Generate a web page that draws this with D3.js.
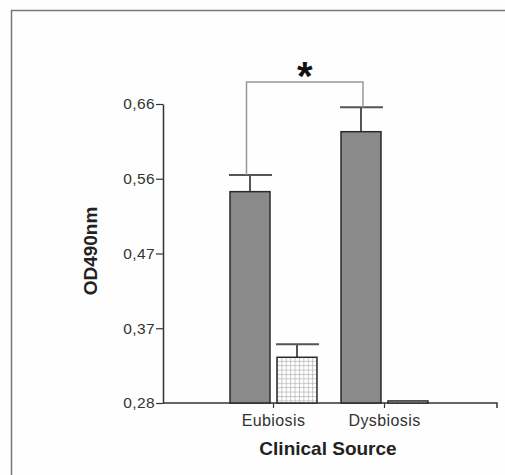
<!DOCTYPE html>
<html>
<head>
<meta charset="utf-8">
<script src="https://cdn.jsdelivr.net/npm/d3@7"></script>
<style>
  body { margin: 0; background: #fff; }
  text { font-family: Arial, "Liberation Sans", sans-serif; }
</style>
</head>
<body>
<svg width="505" height="475"></svg>
<script>
// OD490nm by clinical source, two series per group
var groups = ["Eubiosis", "Dysbiosis"];
var series = ["solid", "hatched"];
var means = [[0.5486, 0.3381], [0.6248, 0.2826]];
var errs = [[0.0212, 0.0165], [0.0310, 0]];
var yTicks = [0.28, 0.375, 0.47, 0.565, 0.66];
var yTickLabels = ["0,28", "0,37", "0,47", "0,56", "0,66"];
var bracketLevel = 0.688;

var svg = d3.select("svg"),
    width = +svg.attr("width"),
    height = +svg.attr("height");

svg.append("rect").attr("width", width).attr("height", height).attr("fill", "#fefefe");

// outer frame (only top and left edges visible)
svg.append("path")
    .attr("d", "M11.5,475V10.5H505")
    .attr("fill", "none")
    .attr("stroke", "#777")
    .attr("stroke-width", 1.5);

var defs = svg.append("defs");
var pat = defs.append("pattern")
    .attr("id", "grid")
    .attr("patternUnits", "userSpaceOnUse")
    .attr("width", 4.4).attr("height", 4.4);
pat.append("rect").attr("width", 4.4).attr("height", 4.4).attr("fill", "#fff");
pat.append("path").attr("d", "M0,0.5H4.4M0.5,0V4.4")
    .attr("stroke", "#bbb").attr("stroke-width", 0.8);

var left = 163, right = 497;

var y = d3.scaleLinear().domain([0.28, 0.66]).range([403, 104]);

var x0 = d3.scaleBand().domain(groups).range([218, 440]);
var x1 = d3.scaleBand().domain(series).range([0, x0.bandwidth()])
    .paddingInner(0.149).paddingOuter(0.2555);

// y axis
var yAxis = svg.append("g")
    .attr("transform", "translate(" + left + ",0)")
    .call(d3.axisLeft(y).tickValues(yTicks)
      .tickFormat(function(d, i) { return yTickLabels[i]; })
      .tickSize(7).tickSizeOuter(0));
yAxis.select(".domain").attr("stroke", "#333").attr("stroke-width", 1.5);
yAxis.selectAll(".tick line").attr("stroke", "#333").attr("stroke-width", 1.2);
yAxis.selectAll(".tick text")
    .attr("font-size", 15.5).attr("letter-spacing", 0.4)
    .attr("fill", "#333").attr("x", -8);

// x axis
var xAxis = svg.append("g")
    .attr("transform", "translate(0,403)")
    .call(d3.axisBottom(x0).tickSize(5).tickSizeOuter(0));
xAxis.select(".domain").remove();
xAxis.append("path")
    .attr("d", "M" + left + ",0H" + right + "V5")
    .attr("fill", "none").attr("stroke", "#333").attr("stroke-width", 1.5);
xAxis.selectAll(".tick line").attr("stroke", "#333").attr("stroke-width", 1.2);
xAxis.selectAll(".tick text")
    .attr("font-size", 16).attr("letter-spacing", 0.4)
    .attr("fill", "#333").attr("y", 12).attr("dy", "0.71em");

// bars
var rows = [];
groups.forEach(function(g, i) {
  series.forEach(function(s, j) {
    rows.push({ group: g, series: s, mean: means[i][j], err: errs[i][j] });
  });
});

var bar = svg.append("g").selectAll("g")
    .data(rows)
    .enter().append("g")
    .attr("transform", function(d) { return "translate(" + (x0(d.group) + x1(d.series)) + ",0)"; });

bar.filter(function(d) { return d.err > 0; }).each(function(d) {
  var g = d3.select(this), bw = x1.bandwidth(), cx = bw / 2;
  g.append("line")
      .attr("x1", cx).attr("x2", cx)
      .attr("y1", y(d.mean)).attr("y2", y(d.mean + d.err))
      .attr("stroke", "#555").attr("stroke-width", 2);
  g.append("line")
      .attr("x1", -1).attr("x2", bw + 2)
      .attr("y1", y(d.mean + d.err)).attr("y2", y(d.mean + d.err))
      .attr("stroke", "#555").attr("stroke-width", 2);
});

bar.append("rect")
    .attr("x", 0)
    .attr("y", function(d) { return y(d.mean); })
    .attr("width", x1.bandwidth())
    .attr("height", function(d) { return y(0.28) - y(d.mean); })
    .attr("fill", function(d) { return d.series == "solid" ? "#8a8a8a" : "url(#grid)"; })
    .attr("stroke", "#2a2a2a")
    .attr("stroke-width", 1.5);

// significance bracket between the solid bars
var bx1 = x0("Eubiosis") + x1("solid") + x1.bandwidth() / 2 - 3.5,
    bx2 = x0("Dysbiosis") + x1("solid") + x1.bandwidth() / 2 + 2,
    by = y(bracketLevel);
svg.append("path")
    .attr("d", "M" + bx1 + "," + y(means[0][0] + errs[0][0]) + "V" + by + "H" + bx2 + "V" + y(means[1][0] + errs[1][0]))
    .attr("fill", "none").attr("stroke", "#999").attr("stroke-width", 1.5);
svg.append("text")
    .attr("x", (bx1 + bx2) / 2).attr("y", by + 8)
    .attr("text-anchor", "middle")
    .attr("font-size", 40).attr("font-weight", "bold").attr("fill", "#111")
    .text("*");

// axis titles
svg.append("text")
    .attr("transform", "translate(97,251) rotate(-90)")
    .attr("text-anchor", "middle")
    .attr("font-size", 19).attr("font-weight", "bold").attr("fill", "#222")
    .text("OD490nm");

svg.append("text")
    .attr("x", 328).attr("y", 455)
    .attr("text-anchor", "middle")
    .attr("font-size", 19).attr("font-weight", "bold").attr("fill", "#222")
    .text("Clinical Source");
</script>
</body>
</html>
